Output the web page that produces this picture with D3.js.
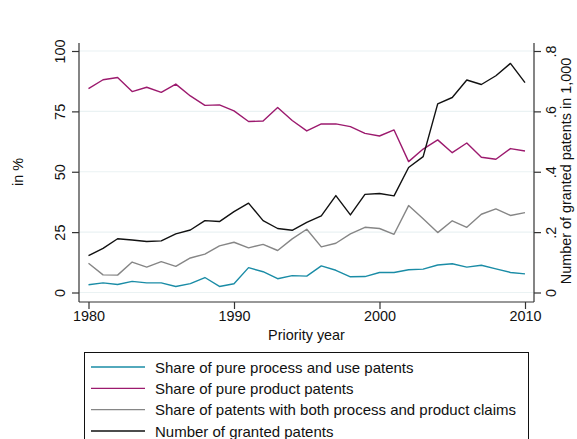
<!DOCTYPE html>
<html><head><meta charset="utf-8">
<script src="https://cdn.jsdelivr.net/npm/d3@7"></script>
<style>
html,body{margin:0;padding:0;background:#fff;}
svg{display:block;font-family:"Liberation Sans",Arial,sans-serif;}
</style></head>
<body>
<svg id="chart" width="577" height="439"></svg>
<script>
const years = d3.range(1980, 2011);
const processShare = [3.2,4.0,3.3,4.6,4.0,4.0,2.5,3.7,6.2,2.5,3.6,10.3,8.6,5.7,7.0,6.8,11.0,9.2,6.5,6.6,8.3,8.3,9.4,9.7,11.4,11.9,10.5,11.3,9.8,8.3,7.7];
const productShare = [84.4,88.1,89.0,83.2,85.0,82.9,86.3,81.4,77.5,77.7,75.2,70.8,71.0,76.6,71.2,66.9,69.8,69.8,68.7,65.9,64.8,67.3,54.2,59.4,63.2,57.9,61.9,56.0,55.2,59.6,58.6];
const bothShare = [12.1,7.3,7.2,12.6,10.5,12.8,10.8,14.3,15.9,19.3,20.8,18.5,19.9,17.4,22.2,26.2,18.9,20.4,24.3,27.0,26.5,24.1,36.0,30.5,24.8,29.7,27.0,32.4,34.6,31.9,33.1];
const grantedThousands = [0.122,0.146,0.178,0.174,0.169,0.171,0.194,0.207,0.238,0.235,0.268,0.296,0.238,0.212,0.206,0.232,0.254,0.321,0.257,0.325,0.328,0.320,0.414,0.450,0.625,0.646,0.704,0.689,0.718,0.759,0.695];
const leftTicks = [0,25,50,75,100];
const rightTicks = [0,0.2,0.4,0.6,0.8];
const rightTickLabels = ["0",".2",".4",".6",".8"];
const xTicks = [1980,1990,2000,2010];
const seriesNames = ["Share of pure process and use patents","Share of pure product patents","Share of patents with both process and product claims","Number of granted patents"];
const seriesColors = ["#1a8ca6","#9c1a6e","#868686","#111111"];

const svg = d3.select("#chart");
const L = 79, R = 534, T = 43, B = 302;
const x = d3.scaleLinear().domain([1980,2010]).range([88.5,525]);
const yL = d3.scaleLinear().domain([0,100]).range([292.5,51]);
const yR = d3.scaleLinear().domain([0,0.8]).range([292.5,51]);
const axisColor = "#333";
const fs = 14.4;
const lfs = 15;

// grid
svg.append("g").selectAll("line").data(leftTicks).join("line")
  .attr("x1", L).attr("x2", R).attr("y1", d=>yL(d)).attr("y2", d=>yL(d))
  .attr("stroke", "#eaf2f3").attr("stroke-width", 1.2);

// left axis
const gL = svg.append("g").attr("transform", `translate(${L},0)`)
  .call(d3.axisLeft(yL).tickValues(leftTicks).tickSize(7).tickPadding(0).tickFormat(d3.format("d")));
gL.select(".domain").attr("d", `M0,${T}V${B}`);
gL.selectAll(".tick text").remove();
gL.selectAll(".tick").append("text")
  .attr("transform", "translate(-14,0) rotate(-90)")
  .attr("text-anchor","middle").attr("fill","#111").attr("font-size",fs)
  .text(d=>d3.format("d")(d));

// right axis
const gR = svg.append("g").attr("transform", `translate(${R},0)`)
  .call(d3.axisRight(yR).tickValues(rightTicks).tickSize(7).tickPadding(0).tickFormat((d,i)=>rightTickLabels[i]));
gR.select(".domain").attr("d", `M0,${T}V${B}`);
gR.selectAll(".tick text").remove();
gR.selectAll(".tick").append("text")
  .attr("transform", "translate(22,0) rotate(-90)")
  .attr("text-anchor","middle").attr("fill","#111").attr("font-size",fs)
  .text((d,i)=>rightTickLabels[i]);

// bottom axis
const gB = svg.append("g").attr("transform", `translate(0,${B})`)
  .call(d3.axisBottom(x).tickValues(xTicks).tickSize(7).tickPadding(2).tickFormat(d3.format("d")));
gB.select(".domain").attr("d", `M${L},0H${R}`);
gB.selectAll(".tick text").attr("font-size",fs).attr("fill","#111").attr("font-family","Liberation Sans, Arial, sans-serif");

[gL,gR,gB].forEach(g=>{
  g.selectAll(".domain").attr("stroke",axisColor).attr("stroke-width",1.2);
  g.selectAll(".tick line").attr("stroke",axisColor).attr("stroke-width",1.2);
});

// titles
svg.append("text").attr("transform","translate(23,172) rotate(-90)").attr("text-anchor","middle")
  .attr("font-size",fs).attr("fill","#111").text("in %");
svg.append("text").attr("transform","translate(571,171) rotate(-90)").attr("text-anchor","middle")
  .attr("font-size",fs).attr("fill","#111").text("Number of granted patents in 1,000");
svg.append("text").attr("x",306.5).attr("y",340).attr("text-anchor","middle")
  .attr("font-size",fs).attr("fill","#111").text("Priority year");

// lines
const lineL = d3.line().x((d,i)=>x(years[i])).y(d=>yL(d));
const lineR = d3.line().x((d,i)=>x(years[i])).y(d=>yR(d));
const series = [
  {data: processShare, gen: lineL},
  {data: productShare, gen: lineL},
  {data: bothShare, gen: lineL},
  {data: grantedThousands, gen: lineR}
];
svg.append("g").selectAll("path").data(series).join("path")
  .attr("d", d=>d.gen(d.data)).attr("fill","none")
  .attr("stroke",(d,i)=>seriesColors[i]).attr("stroke-width",1.4)
  .attr("stroke-linejoin","round");

// legend
const lg = svg.append("g");
lg.append("rect").attr("x",84.5).attr("y",352.5).attr("width",444).attr("height",100)
  .attr("fill","#fff").attr("stroke","#111").attr("stroke-width",1);
const rowY = d3.scalePoint().domain(seriesNames).range([367,431]);
const rows = lg.selectAll("g.row").data(seriesNames).join("g").attr("class","row")
  .attr("transform", d=>`translate(0,${rowY(d)})`);
rows.append("line").attr("x1",91).attr("x2",145).attr("y1",0).attr("y2",0)
  .attr("stroke",(d,i)=>seriesColors[i]).attr("stroke-width",1.4);
rows.append("text").attr("x",155).attr("y",5.5).attr("font-size",lfs).attr("fill","#111").text(d=>d);
</script>
</body></html>
